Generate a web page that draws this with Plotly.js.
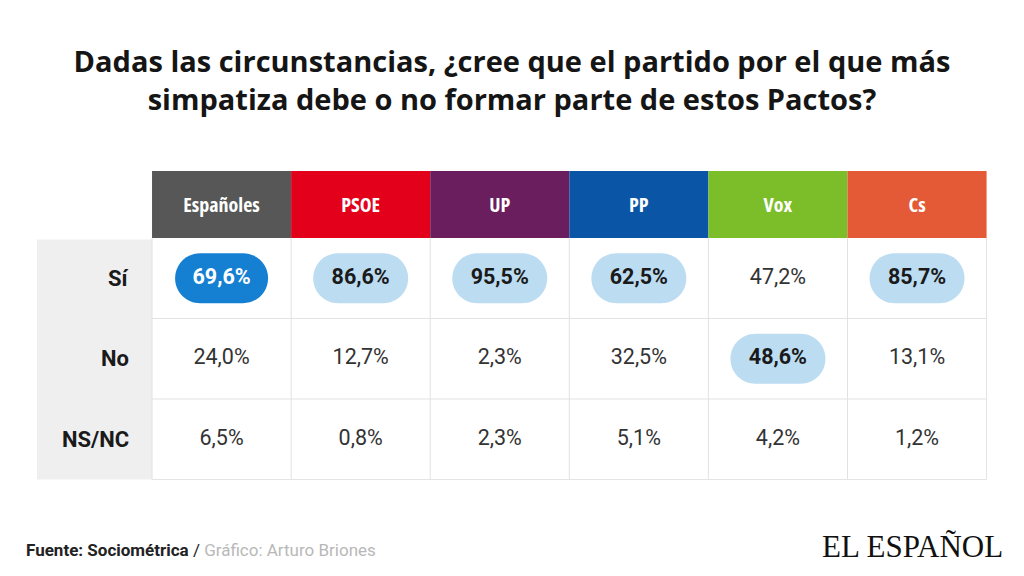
<!DOCTYPE html>
<html><head><meta charset="utf-8">
<script src="https://cdn.plot.ly/plotly-3.0.1.min.js"></script>
<style>html,body{margin:0;padding:0;background:#fff}#chart{width:1024px;height:576px}</style>
</head><body><div id="chart"></div>
<script>
// ---- data ----
const parties = ['Españoles', 'PSOE', 'UP', 'PP', 'Vox', 'Cs'];
const partyColors = ['#575757', '#e2001a', '#6a1e5d', '#0b55a6', '#7cbd2a', '#e45a36'];
const answers = ['Sí', 'No', 'NS/NC'];
const si   = [69.6, 86.6, 95.5, 62.5, 47.2, 85.7];
const no   = [24.0, 12.7, 2.3, 32.5, 48.6, 13.1];
const nsnc = [6.5, 0.8, 2.3, 5.1, 4.2, 1.2];
const titleLines = ['Dadas las circunstancias, ¿cree que el partido por el que más',
                    'simpatiza debe o no formar parte de estos Pactos?'];
const sourceText = 'Fuente: Sociométrica';
const creditText = 'Gráfico: Arturo Briones';
const brandText = 'EL ESPAÑOL';

// ---- geometry / style ----
const rows = [si, no, nsnc];
const LABEL_W = 0.827, HEADER_H = 0.83;
const STR = (s, p) => '<span style="font-stretch:' + p + '%">' + s + '</span>';
const fmt = v => v.toFixed(1).replace('.', ',') + '%';
const pillPath = (w, h) => {
  const r = h / 2, a = w / 2 - r, k = 0.5523 * r;
  return `M ${-a},${-r} L ${a},${-r} C ${a + k},${-r} ${a + r},${-k} ${a + r},0 ` +
         `C ${a + r},${k} ${a + k},${r} ${a},${r} L ${-a},${r} ` +
         `C ${-a - k},${r} ${-a - r},${k} ${-a - r},0 C ${-a - r},${-k} ${-a - k},${-r} ${-a},${-r} Z`;
};

const idx = parties.map((_, i) => i);
// highlighted answer per column = max
const best = idx.map(j => {
  let bi = 0;
  rows.forEach((r, ri) => { if (r[j] > rows[bi][j]) bi = ri; });
  return bi;
});

const shapes = [];
shapes.push({type: 'rect', xref: 'x', yref: 'y', x0: -0.5 - LABEL_W, x1: -0.5, y0: -0.48, y1: 2.5,
  fillcolor: '#efefef', line: {width: 0}, layer: 'below'});
idx.forEach(i => shapes.push({type: 'rect', xref: 'x', yref: 'y', x0: i - 0.5, x1: i + 0.5,
  y0: -0.5 - HEADER_H, y1: -0.5, fillcolor: partyColors[i], line: {width: 0}, layer: 'below'}));
for (let i = -1; i < parties.length; i++) {
  shapes.push({type: 'line', xref: 'x', yref: 'y', x0: i + 0.5, x1: i + 0.5, y0: -0.5, y1: 2.5,
    line: {color: '#e2e2e2', width: 1}, layer: 'below'});
}
answers.forEach((_, r) => shapes.push({type: 'line', xref: 'x', yref: 'y', x0: -0.5, x1: parties.length - 0.5,
  y0: r + 0.5, y1: r + 0.5, line: {color: '#e2e2e2', width: 1}, layer: 'below'}));
idx.forEach(j => shapes.push({type: 'path', xref: 'x', yref: 'y', xsizemode: 'pixel', ysizemode: 'pixel',
  xanchor: j, yanchor: best[j], path: pillPath(j === 0 ? 93 : 95, 50),
  fillcolor: j === 0 ? '#1580d2' : '#bcdcf2', line: {width: 0}, layer: 'below'}));

const traces = [];
traces.push({type: 'scatter', mode: 'text', x: idx, y: idx.map(() => -0.5 - HEADER_H / 2 + 0.03),
  text: parties.map(p => STR(p, 75)), textposition: 'middle center', hoverinfo: 'skip',
  textfont: {family: 'Open Sans, Roboto, sans-serif', size: 20, color: '#ffffff', weight: 'bold'}});
rows.forEach((row, r) => {
  traces.push({type: 'scatter', mode: 'text', x: idx, y: idx.map(() => r),
    text: row.map((v, j) => best[j] === r ? '<b>' + fmt(v) + '</b>' : fmt(v)),
    textposition: 'middle center', hoverinfo: 'skip',
    textfont: {family: 'Roboto, sans-serif', size: 21.5,
      color: row.map((v, j) => (best[j] === r && j === 0) ? '#ffffff' : (best[j] === r ? '#1a1a1a' : '#333333'))}});
});

const annotations = answers.map((a, r) => ({xref: 'x', yref: 'y', x: -0.5, y: r, xanchor: 'right', xshift: -21,
  yanchor: 'middle', showarrow: false, text: '<b>' + a + '</b>',
  font: {family: 'Roboto, sans-serif', size: 22, color: '#1a1a1a'}}));
annotations.push({xref: 'paper', yref: 'paper', x: -13 / 950, y: -70 / 309, xanchor: 'left', yanchor: 'middle',
  showarrow: false, align: 'left',
  text: '<b>' + sourceText + '</b> / <span style="color:#b8b8b8">' + creditText + '</span>',
  font: {family: 'Roboto, sans-serif', size: 17, color: '#222222'}});
annotations.push({xref: 'paper', yref: 'paper', x: 968 / 950, y: -66 / 309, xanchor: 'right', yanchor: 'middle',
  showarrow: false, text: brandText,
  font: {family: 'Liberation Serif, serif', size: 31, color: '#111111'}});

const layout = {
  width: 1024, height: 576,
  margin: {l: 37, r: 37, t: 171, b: 96, pad: 0},
  paper_bgcolor: '#ffffff', plot_bgcolor: '#ffffff',
  showlegend: false,
  title: {text: titleLines.join('<br>'), x: 0.5, xanchor: 'center', xref: 'paper',
    y: 1 - 72 / 576, yref: 'container', yanchor: 'top',
    font: {family: 'Open Sans, Roboto, sans-serif', size: 29, color: '#151515', weight: 'bold'}},
  xaxis: {range: [-0.5 - LABEL_W, parties.length - 0.5 + 0.003], visible: false, fixedrange: true},
  yaxis: {range: [2.505, -0.5 - HEADER_H], visible: false, fixedrange: true},
  shapes: shapes, annotations: annotations
};

Plotly.newPlot('chart', traces, layout, {displayModeBar: false, staticPlot: true});
</script>
</body></html>
